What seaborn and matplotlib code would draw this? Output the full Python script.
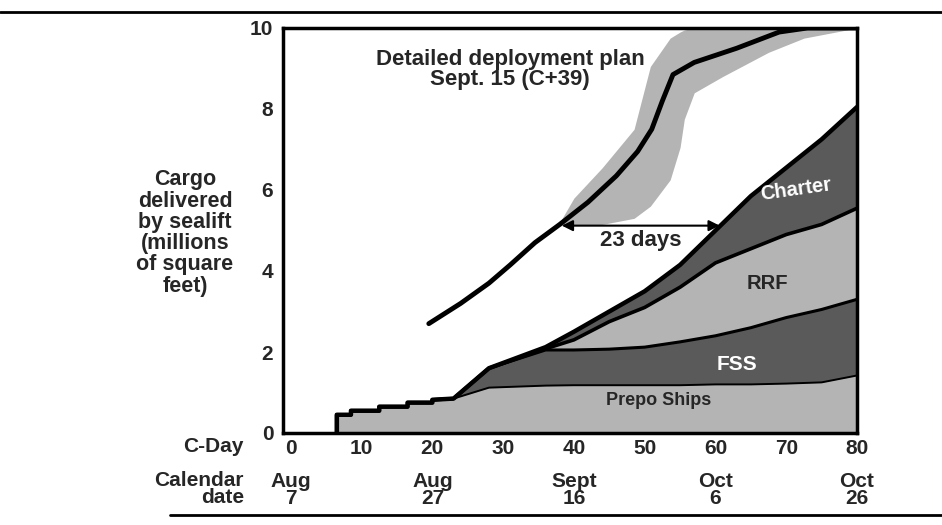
import numpy as np
import matplotlib
matplotlib.use("Agg")
import matplotlib.pyplot as plt
from matplotlib.lines import Line2D
import seaborn as sns

# stacked sealift deliveries (millions of sq ft) by C-day
days = [6.5, 6.5, 8.5, 8.5, 12.5, 12.5, 16.5, 16.5, 20, 20, 23,
        28, 36, 40, 45, 50, 55, 60, 65, 70, 75, 80]
prepo = [0, 0.45, 0.45, 0.55, 0.55, 0.65, 0.65, 0.75, 0.75, 0.82, 0.85,
         1.12, 1.17, 1.18, 1.18, 1.18, 1.18, 1.2, 1.2, 1.22, 1.25, 1.42]
fss = [0, 0, 0, 0, 0, 0, 0, 0, 0, 0, 0,
       0.48, 0.88, 0.87, 0.89, 0.94, 1.07, 1.2, 1.4, 1.63, 1.8, 1.88]
rrf = [0, 0, 0, 0, 0, 0, 0, 0, 0, 0, 0,
       0, 0.03, 0.25, 0.68, 0.98, 1.35, 1.8, 1.95, 2.05, 2.1, 2.25]
charter = [0, 0, 0, 0, 0, 0, 0, 0, 0, 0, 0,
           0, 0.04, 0.2, 0.25, 0.4, 0.55, 0.8, 1.3, 1.65, 2.1, 2.5]

# detailed deployment plan of Sept. 15 (C+39)
plan_day = [19.5, 24, 28, 31, 34.5, 38, 42, 46, 49, 51, 52.5, 54, 57, 63, 69, 73, 80]
plan_val = [2.7, 3.2, 3.7, 4.15, 4.7, 5.15, 5.7, 6.35, 6.95, 7.5, 8.2, 8.85,
            9.15, 9.5, 9.9, 10.0, 10.0]
band_day = [38, 40, 44, 48.5, 50.8, 53.6, 55, 55.6, 57, 61, 67.5, 72.5, 80]
band_hi = [5.2, 5.8, 6.55, 7.5, 9.05, 9.75, 9.9, 9.95, 10, 10, 10, 10, 10]
band_lo = [5.12, 5.12, 5.15, 5.3, 5.6, 6.25, 7.05, 7.75, 8.4, 8.8, 9.4, 9.75, 10]

lag_start = 38.3   # where plan meets actual level
lag_days = 23
lag_level = 5.12

cday_ticks = [0, 10, 20, 30, 40, 50, 60, 70, 80]
cal_days = [0, 20, 40, 60, 80]
cal_labels = ["Aug\n7", "Aug\n27", "Sept\n16", "Oct\n6", "Oct\n26"]

sns.set_style("white")
plt.rcParams['font.family'] = ['Liberation Sans', 'DejaVu Sans']
plt.rcParams['font.weight'] = 'bold'

light = "#b4b4b4"
dark = "#5a5a5a"

fig = plt.figure(figsize=(9.42, 5.25), dpi=100)
ax = fig.add_axes([283 / 942, 92 / 525, 574 / 942, 405 / 525])

ax.fill_between(band_day, band_lo, band_hi, color=light, lw=0)
ax.stackplot(days, prepo, fss, rrf, charter,
             colors=[light, dark, light, dark], lw=0)

tops = np.cumsum([prepo, fss, rrf, charter], axis=0)
for i, lw in zip(range(4), [1.4, 2.2, 2.6, 3.2]):
    sns.lineplot(x=days, y=tops[i], ax=ax, color="black", lw=lw,
                 estimator=None, sort=False)
ax.plot([days[0], days[0]], [0, prepo[1]], color="black", lw=3)

sns.lineplot(x=plan_day, y=plan_val, ax=ax, color="black", lw=3.5,
             estimator=None, sort=False)

ax.annotate("", xy=(lag_start, lag_level), xytext=(lag_start + lag_days - 0.7, lag_level),
            arrowprops=dict(arrowstyle="<|-|>", color="black", lw=1.5,
                            mutation_scale=16, shrinkA=0, shrinkB=0))
ax.text(lag_start + lag_days / 2 - 0.3, lag_level - 0.1, "23 days", ha="center",
        va="top", fontsize=16, fontweight="bold")

ax.text(31.0, 8.98, "Detailed deployment plan\nSept. 15 (C+39)", ha="center",
        va="center", fontsize=16, fontweight="bold", linespacing=0.95)
ax.text(71.3, 6.0, "Charter", color="white", ha="center", va="center",
        fontsize=14.5, fontweight="bold", rotation=8)
ax.text(67.3, 3.7, "RRF", ha="center", va="center", fontsize=14.5, fontweight="bold")
ax.text(63, 1.68, "FSS", color="white", ha="center", va="center",
        fontsize=15, fontweight="bold")
ax.text(52, 0.8, "Prepo Ships", ha="center", va="center", fontsize=13,
        fontweight="bold")

ax.set_xlim(-1.1, 80)
ax.set_ylim(0, 10)
ax.set_xticks(cday_ticks)
ax.set_xticks(range(5, 80, 10), minor=True)
ax.set_yticks([0, 2, 4, 6, 8, 10])
ax.tick_params(axis="x", which="both", direction="in", length=7, width=2,
               labelsize=15, pad=4)
ax.tick_params(axis="y", direction="in", length=11, width=2.2, labelsize=15, pad=7)
for lab in ax.get_xticklabels() + ax.get_yticklabels():
    lab.set_fontweight("bold")
for s in ax.spines.values():
    s.set_linewidth(2.5)
    s.set_color("black")
ax.set_xlabel("")
ax.set_ylabel("")

for d, lab in zip(cal_days, cal_labels):
    ax.text(d, -0.14, lab, transform=ax.get_xaxis_transform(), ha="center",
            va="center", fontsize=15, fontweight="bold", linespacing=0.88)

fig.text(243 / 942, 1 - 447 / 525, "C-Day", ha="right", va="center",
         fontsize=15, fontweight="bold")
fig.text(244 / 942, 1 - 489 / 525, "Calendar\ndate", ha="right", va="center",
         fontsize=15, fontweight="bold", multialignment="right", linespacing=0.88)
fig.text(185 / 942, 1 - 233 / 525,
         "Cargo\ndelivered\nby sealift\n(millions\nof square\nfeet)",
         ha="center", va="center", fontsize=15.5, fontweight="bold", linespacing=1.02)

fig.add_artist(Line2D([0, 1], [1 - 12 / 525, 1 - 12 / 525], color="black", lw=2))
fig.add_artist(Line2D([0.18, 1], [1 - 515 / 525, 1 - 515 / 525], color="black", lw=2))

fig.savefig("out.png", dpi=100)
